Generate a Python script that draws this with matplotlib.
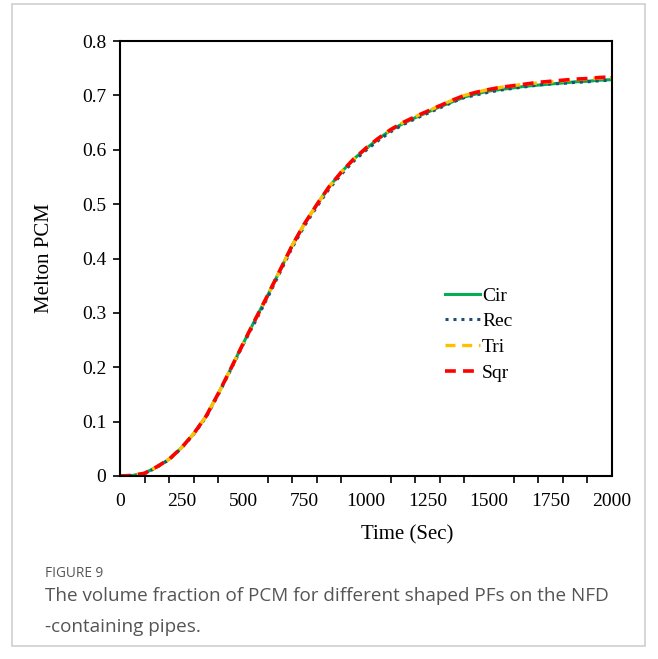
import matplotlib.pyplot as plt
from matplotlib.ticker import MultipleLocator
from matplotlib.patches import Rectangle

# melt fraction vs time for the four pipe fin shapes, sampled every 50 s
time = list(range(0, 2001, 50))
cir = [0, 0.001, 0.005, 0.017, 0.031, 0.052, 0.078, 0.110, 0.152, 0.197, 0.243,
       0.288, 0.332, 0.378, 0.424, 0.464, 0.499, 0.532, 0.559, 0.583, 0.602,
       0.620, 0.636, 0.648, 0.659, 0.669, 0.679, 0.688, 0.697, 0.703, 0.708,
       0.711, 0.714, 0.717, 0.719, 0.721, 0.723, 0.725, 0.726, 0.728, 0.729]
rec = [0, 0.001, 0.004, 0.016, 0.030, 0.051, 0.077, 0.108, 0.150, 0.195, 0.241,
       0.284, 0.328, 0.374, 0.420, 0.460, 0.495, 0.528, 0.555, 0.579, 0.599,
       0.617, 0.633, 0.646, 0.657, 0.667, 0.677, 0.687, 0.696, 0.701, 0.706,
       0.710, 0.713, 0.716, 0.719, 0.721, 0.722, 0.724, 0.725, 0.727, 0.728]
tri = [0, 0.001, 0.005, 0.017, 0.031, 0.052, 0.078, 0.110, 0.152, 0.197, 0.243,
       0.288, 0.332, 0.378, 0.424, 0.464, 0.499, 0.532, 0.559, 0.583, 0.603,
       0.621, 0.637, 0.650, 0.661, 0.671, 0.681, 0.691, 0.700, 0.706, 0.711,
       0.715, 0.718, 0.721, 0.723, 0.725, 0.727, 0.729, 0.730, 0.732, 0.733]
sqr = [0, 0.001, 0.005, 0.017, 0.031, 0.052, 0.078, 0.110, 0.152, 0.197, 0.243,
       0.288, 0.332, 0.378, 0.424, 0.464, 0.499, 0.532, 0.559, 0.583, 0.603,
       0.621, 0.637, 0.650, 0.661, 0.671, 0.681, 0.691, 0.700, 0.706, 0.711,
       0.715, 0.718, 0.721, 0.724, 0.726, 0.728, 0.730, 0.731, 0.733, 0.734]

y_ticks = [0, 0.1, 0.2, 0.3, 0.4, 0.5, 0.6, 0.7, 0.8]
y_labels = ["0", "0.1", "0.2", "0.3", "0.4", "0.5", "0.6", "0.7", "0.8"]
x_ticks = [0, 250, 500, 750, 1000, 1250, 1500, 1750, 2000]

serif = "Liberation Serif"

fig = plt.figure(figsize=(6.58, 6.59), dpi=100)
fig.patches.append(Rectangle((0.018, 0.019), 0.962, 0.975, transform=fig.transFigure,
                             fill=False, edgecolor="#cfcfcf", linewidth=1.2))

ax = fig.add_axes([0.1824, 0.2777, 0.7476, 0.660])

ax.plot(time, cir, color="#00b050", lw=2.2, label="Cir")
ax.plot(time, rec, color="#1f4e79", lw=2.2, linestyle=(0, (1, 1.6)), label="Rec")
ax.plot(time, tri, color="#ffc000", lw=2.4, linestyle=(0, (3, 2)), label="Tri")
ax.plot(time, sqr, color="#ff0000", lw=2.6, linestyle=(0, (3, 2)), label="Sqr")

ax.set_xlim(0, 2000)
ax.set_ylim(0, 0.8)
ax.set_xticks(x_ticks)
ax.set_xticklabels([str(v) for v in x_ticks], fontfamily=serif, fontsize=14)
ax.xaxis.set_minor_locator(MultipleLocator(100))
ax.tick_params(axis="x", which="major", length=0, pad=12)
ax.tick_params(axis="x", which="minor", length=5, width=1.2, direction="out")
ax.set_yticks(y_ticks)
ax.set_yticklabels(y_labels, fontfamily=serif, fontsize=14)
ax.tick_params(axis="y", length=5, width=1.2, direction="out", pad=5)
for sp in ax.spines.values():
    sp.set_linewidth(1.5)

fig.text(0.619, 0.189, "Time (Sec)", fontfamily=serif, fontsize=15,
         ha="center", va="center")
fig.text(0.068, 0.608, "Melton PCM", fontfamily=serif, fontsize=15,
         ha="center", va="center", rotation=90)

ax.legend(loc="upper left", bbox_to_anchor=(0.625, 0.475), frameon=False,
          prop={"family": serif, "size": 14}, handlelength=1.8,
          handletextpad=0.1, labelspacing=0.42)

fig.text(0.068, 0.130, "FIGURE 9", fontfamily="Open Sans", fontsize=9.8,
         color="#555555", va="center")
fig.text(0.068, 0.095, "The volume fraction of PCM for different shaped PFs on the NFD",
         fontfamily="Open Sans", fontsize=13.6, color="#555555", va="center")
fig.text(0.068, 0.048, "-containing pipes.", fontfamily="Open Sans", fontsize=13.6,
         color="#555555", va="center")

fig.savefig("out.png", dpi=100)
